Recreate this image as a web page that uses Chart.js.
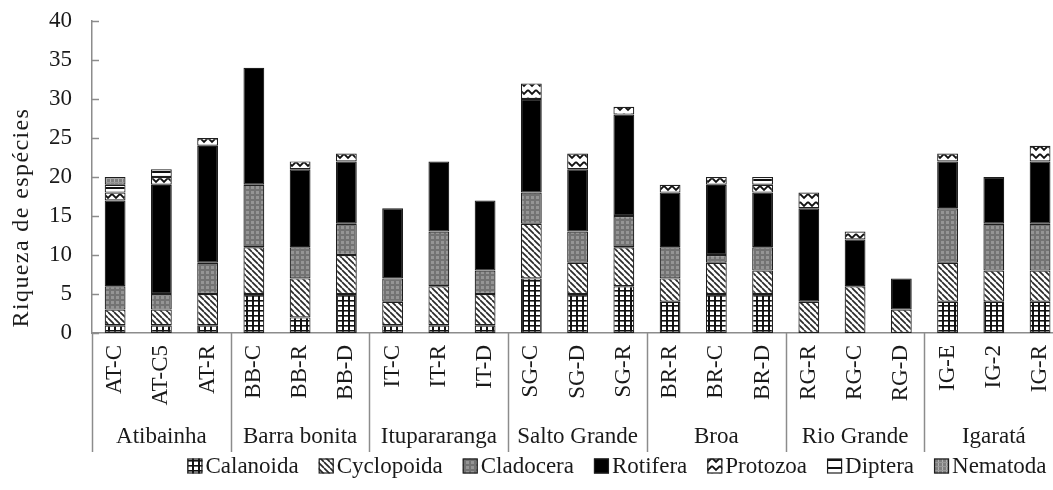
<!DOCTYPE html>
<html>
<head>
<meta charset="utf-8">
<script src="https://cdn.jsdelivr.net/npm/chart.js@4/dist/chart.umd.min.js"></script>
<style>
  html, body { margin: 0; padding: 0; background: #fff; overflow: hidden; }
  #wrap { width: 1080px; height: 490px; position: relative; }
</style>
</head>
<body>
<div id="wrap"><canvas id="c" width="1080" height="490"></canvas></div>
<script>
// Sampling sites, grouped three per reservoir
const sites = ['AT-C', 'AT-C5', 'AT-R', 'BB-C', 'BB-R', 'BB-D', 'IT-C', 'IT-R', 'IT-D',
               'SG-C', 'SG-D', 'SG-R', 'BR-R', 'BR-C', 'BR-D', 'RG-R', 'RG-C', 'RG-D',
               'IG-E', 'IG-2', 'IG-R'];
const reservoirs = ['Atibainha', 'Barra bonita', 'Itupararanga', 'Salto Grande', 'Broa', 'Rio Grande', 'Igaratá'];
const sitesPerReservoir = 3;

// Species richness per taxonomic group at each site
const calanoida  = [1, 1, 1, 5, 2, 5, 1, 1, 1, 7, 5, 6, 4, 5, 5, 0, 0, 0, 4, 4, 4];
const cyclopoida = [2, 2, 4, 6, 5, 5, 3, 5, 4, 7, 4, 5, 3, 4, 3, 4, 6, 3, 5, 4, 4];
const cladocera  = [3, 2, 4, 8, 4, 4, 3, 7, 3, 4, 4, 4, 4, 1, 3, 0, 0, 0, 7, 6, 6];
const rotifera   = [11, 14, 15, 15, 10, 8, 9, 9, 9, 12, 8, 13, 7, 9, 7, 12, 6, 4, 6, 6, 8];
const protozoa   = [1, 1, 1, 0, 1, 1, 0, 0, 0, 2, 2, 1, 1, 1, 1, 2, 1, 0, 1, 0, 2];
const diptera    = [1, 1, 0, 0, 0, 0, 0, 0, 0, 0, 0, 0, 0, 0, 1, 0, 0, 0, 0, 0, 0];
const nematoda   = [1, 0, 0, 0, 0, 0, 0, 0, 0, 0, 0, 0, 0, 0, 0, 0, 0, 0, 0, 0, 0];

const yMin = 0, yMax = 40, yStep = 5;
const yTitle = 'Riqueza de espécies';

const FONT = '"Liberation Serif", "Times New Roman", serif';
const TEXT = '#1a1a1a';
const AXIS = '#8c8c8c';

const canvas = document.getElementById('c');
const mainCtx = canvas.getContext('2d');

function makePattern(w, h, draw) {
  const t = document.createElement('canvas');
  t.width = w; t.height = h;
  const g = t.getContext('2d');
  draw(g, w, h);
  return mainCtx.createPattern(t, 'repeat');
}

const fills = {
  calanoida: makePattern(6, 5, (g, w, h) => {
    g.fillStyle = '#fff'; g.fillRect(0, 0, w, h);
    g.fillStyle = '#111';
    g.fillRect(0, 0, 2, h);
    g.fillRect(0, 0, w, 1.6);
  }),
  cyclopoida: makePattern(6, 6, (g, w, h) => {
    g.fillStyle = '#fff'; g.fillRect(0, 0, w, h);
    g.strokeStyle = '#2a2a2a'; g.lineWidth = 1.7;
    for (const o of [-6, 0, 6]) {
      g.beginPath(); g.moveTo(o, 0); g.lineTo(o + 6, 6); g.stroke();
    }
  }),
  cladocera: makePattern(5, 5, (g, w, h) => {
    g.fillStyle = '#737373'; g.fillRect(0, 0, w, h);
    g.fillStyle = '#959595'; g.fillRect(1, 1, 3, 3);
  }),
  rotifera: '#000000',
  protozoa: makePattern(8, 8, (g, w, h) => {
    g.fillStyle = '#fff'; g.fillRect(0, 0, w, h);
    g.strokeStyle = '#111'; g.lineWidth = 1.8;
    g.beginPath(); g.moveTo(0, 2); g.lineTo(4, 6); g.lineTo(8, 2); g.stroke();
  }),
  diptera: makePattern(4, 8, (g, w, h) => {
    g.fillStyle = '#fff'; g.fillRect(0, 0, w, h);
    g.fillStyle = '#111'; g.fillRect(0, 3, w, 2);
  }),
  nematoda: makePattern(4, 4, (g, w, h) => {
    g.fillStyle = '#808080'; g.fillRect(0, 0, w, h);
    g.fillStyle = '#b0b0b0'; g.fillRect(2, 0, 1, h);
    g.fillStyle = '#999'; g.fillRect(0, 2, w, 1);
  })
};

const series = [
  ['Calanoida', calanoida, fills.calanoida],
  ['Cyclopoida', cyclopoida, fills.cyclopoida],
  ['Cladocera', cladocera, fills.cladocera],
  ['Rotifera', rotifera, fills.rotifera],
  ['Protozoa', protozoa, fills.protozoa],
  ['Diptera', diptera, fills.diptera],
  ['Nematoda', nematoda, fills.nematoda]
];

const datasets = series.map(([label, values, fill]) => ({
  label,
  data: values.map(v => (v === 0 ? null : v)),
  backgroundColor: fill,
  borderColor: '#1e1e1e',
  borderWidth: 1.2,
  borderSkipped: false,
  categoryPercentage: 1,
  barPercentage: 0.45
}));

// Inward tick marks on the value axis, plus the rotated axis title
const valueAxisExtras = {
  id: 'valueAxisExtras',
  afterDraw(chart) {
    const { ctx, chartArea: ca } = chart;
    const ys = chart.scales.y;
    ctx.save();
    ctx.strokeStyle = AXIS; ctx.lineWidth = 1.5;
    ys.ticks.forEach(t => {
      const y = Math.round(ys.getPixelForValue(t.value)) + 0.5;
      ctx.beginPath(); ctx.moveTo(ca.left, y); ctx.lineTo(ca.left + 7, y); ctx.stroke();
    });
    ctx.translate(22, ys.getPixelForValue(yMax * 0.37));
    ctx.rotate(-Math.PI / 2);
    ctx.font = '24px ' + FONT;
    if ('letterSpacing' in ctx) ctx.letterSpacing = '1.4px';
    ctx.fillStyle = TEXT;
    ctx.textAlign = 'center';
    ctx.textBaseline = 'middle';
    ctx.fillText(yTitle, 0, 0);
    ctx.restore();
  }
};

// Reservoir names and separator lines below the site labels
const reservoirGroups = {
  id: 'reservoirGroups',
  afterDraw(chart) {
    const { ctx, chartArea: ca } = chart;
    const xs = chart.scales.x;
    ctx.save();
    ctx.strokeStyle = AXIS; ctx.lineWidth = 1.5;
    for (let g = 0; g <= reservoirs.length; g++) {
      let x;
      if (g === 0) x = ca.left;
      else if (g === reservoirs.length) x = ca.right;
      else x = (xs.getPixelForValue(g * sitesPerReservoir - 1) + xs.getPixelForValue(g * sitesPerReservoir)) / 2;
      x = Math.round(x) + 0.5;
      ctx.beginPath(); ctx.moveTo(x, ca.bottom); ctx.lineTo(x, ca.bottom + 119); ctx.stroke();
    }
    ctx.fillStyle = TEXT;
    ctx.font = '23px ' + FONT;
    ctx.textAlign = 'center';
    ctx.textBaseline = 'middle';
    reservoirs.forEach((name, g) => {
      const x = xs.getPixelForValue(g * sitesPerReservoir + 1);
      ctx.fillText(name, x, ca.bottom + 104);
    });
    ctx.restore();
  }
};

// Legend row with patterned swatches
const speciesLegend = {
  id: 'speciesLegend',
  afterDraw(chart) {
    const ctx = chart.ctx;
    const box = 15, textGap = 3, itemGap = 20, cy = 466, centerX = 617;
    ctx.save();
    ctx.font = '23px ' + FONT;
    const items = chart.data.datasets.map(d => ({ d, w: box + textGap + ctx.measureText(d.label).width }));
    const total = items.reduce((s, it) => s + it.w, 0) + itemGap * (items.length - 1);
    let x = centerX - total / 2;
    items.forEach(({ d, w }) => {
      ctx.fillStyle = d.backgroundColor;
      ctx.fillRect(x, cy - box / 2, box, box);
      ctx.strokeStyle = '#1e1e1e'; ctx.lineWidth = 1.2;
      ctx.strokeRect(x + 0.5, cy - box / 2 + 0.5, box - 1, box - 1);
      ctx.fillStyle = TEXT;
      ctx.textAlign = 'left'; ctx.textBaseline = 'middle';
      ctx.fillText(d.label, x + box + textGap, cy + 1);
      x += w + itemGap;
    });
    ctx.restore();
  }
};

new Chart(canvas, {
  type: 'bar',
  data: { labels: sites, datasets },
  plugins: [valueAxisExtras, reservoirGroups, speciesLegend],
  options: {
    responsive: false,
    animation: false,
    layout: { padding: { left: 0, right: 14, top: 21, bottom: 0 } },
    plugins: { legend: { display: false }, tooltip: { enabled: false } },
    scales: {
      x: {
        stacked: true,
        offset: true,
        grid: { display: false, drawTicks: false },
        border: { display: true, color: AXIS, width: 1.5 },
        ticks: {
          autoSkip: false, minRotation: 90, maxRotation: 90, padding: 12,
          color: TEXT, font: { family: FONT, size: 23 }
        },
        afterFit(s) { s.height = 157; }
      },
      y: {
        stacked: true,
        min: yMin, max: yMax,
        // tick marks are hidden; their length only spaces the labels from the axis
        grid: { display: false, drawTicks: true, tickLength: 20 },
        border: { display: true, color: AXIS, width: 1.5 },
        ticks: { stepSize: yStep, padding: 0, color: TEXT, font: { family: FONT, size: 23 } },
        title: { display: false },
        afterFit(s) { s.width = 92; }
      }
    }
  }
});
</script>
</body>
</html>
